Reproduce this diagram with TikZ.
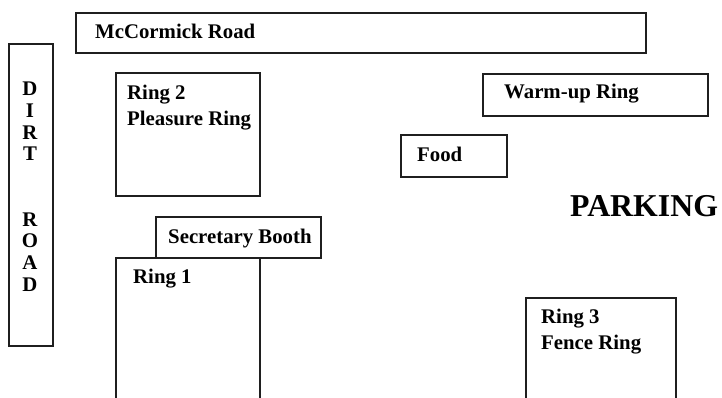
\documentclass[tikz,border=0pt]{standalone}
\usepackage{fontspec}
\setmainfont{Liberation Serif}
\usetikzlibrary{positioning}
\tikzset{
  plot/.style={draw=black!88, line width=2pt},
  lbl/.style={anchor=base west, inner sep=0pt, font=\fontsize{20.8}{26}\selectfont\bfseries},
  lbltop/.style={anchor=north west, inner sep=0pt, align=left, font=\fontsize{20.8}{26}\selectfont\bfseries},
}
\begin{document}
\begin{tikzpicture}[x=1pt, y=-1pt]
  \useasboundingbox (0,0) rectangle (722,398);
  % closed plots
  \foreach \xa/\ya/\xb/\yb in {76/13/646/53, 9/44/53/346, 116/73/260/196, 483/74/708/116, 401/135/507/177, 156/217/321/258} {
    \draw[plot] (\xa,\ya) rectangle (\xb,\yb);
  }
  % rings that run off the bottom edge
  \draw[plot] (116,400) -- (116,258) -- (260,258) -- (260,400);
  \draw[plot] (526,400) -- (526,298) -- (676,298) -- (676,400);
  % labels
  \node[lbl] (road) at (95,39) {McCormick Road};
  \node[anchor=north, inner sep=0pt, align=center, font=\fontsize{20.8}{21.7}\selectfont\bfseries] (dirt) at (30,82) {D\\I\\R\\T\\[43.4pt]R\\O\\A\\D};
  \node[lbltop] (ring2) at (127,85) {Ring 2\\Pleasure Ring};
  \node[lbl] (warmup) at (504,99) {Warm-up Ring};
  \node[lbl] (food) at (417,162) {Food};
  \node[lbl, font=\fontsize{31.8}{38}\selectfont\bfseries] (parking) at (570,216) {PARKING};
  \node[lbl] (booth) at (168,243) {Secretary Booth};
  \node[lbl] (ring1) at (133,283) {Ring 1};
  \node[lbltop] (ring3) at (541,309) {Ring 3\\Fence Ring};
\end{tikzpicture}
\end{document}
